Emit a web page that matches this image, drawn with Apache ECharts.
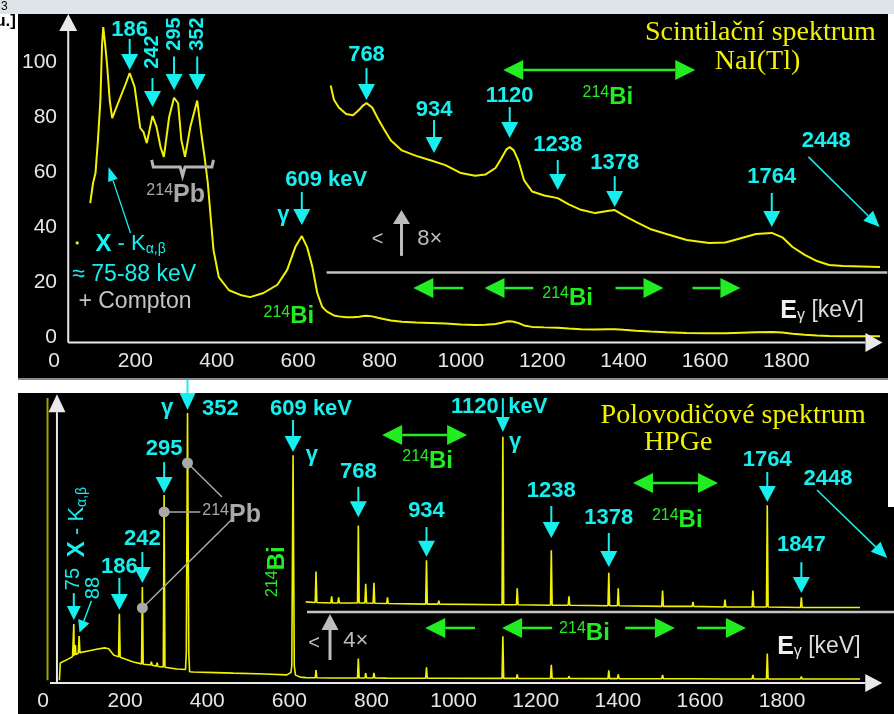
<!DOCTYPE html>
<html>
<head>
<meta charset="utf-8">
<script src="https://cdn.jsdelivr.net/npm/echarts@6/dist/echarts.min.js"></script>
<style>
  html, body { margin: 0; padding: 0; background: #fff; }
  #chart { width: 894px; height: 714px; }
</style>
</head>
<body>
<div id="chart"></div>
<script>
// Axis ticks: energy in keV, counts in 10^3
const energyTicks = [0, 200, 400, 600, 800, 1000, 1200, 1400, 1600, 1800];
const countTicks = [0, 20, 40, 60, 80, 100];

// NaI(Tl) scintillation spectrum of radon daughters: [energy keV, counts x10^3]
const naiSpectrum = [
  [89, 48.7], [96, 56], [102, 59.6], [108, 71.6], [114, 86], [118, 106], [121, 112.7],
  [126, 106], [131, 98], [137, 86], [143, 79.6], [147, 79], [160, 86], [176, 92],
  [186, 96], [198, 91], [205, 83.6], [212, 76], [220, 74.5], [228, 70.5], [242, 80.4],
  [252, 76.4], [262, 69], [270, 65.5], [283, 80], [295, 87], [305, 85], [313, 71.6],
  [322, 65.5], [335, 76.4], [352, 86], [362, 74], [370, 65.5], [378, 56], [385, 43.6],
  [392, 31.6], [405, 21.8], [430, 17], [458, 15.3], [482, 14.5], [515, 16], [549, 19],
  [573, 24.4], [593, 32.7], [609, 36.7], [622, 32.7], [635, 25.5], [647, 16], [659, 11],
  [670, 9.3], [680, 8.5], [688, 7.85], [700, 7.5], [718, 7.2], [735, 7.15], [750, 7.4],
  [760, 7.6], [768, 7.7], [782, 7.5], [796, 7.0], [810, 6.55], [828, 6.0], [855, 5.55],
  [890, 5.3], [925, 5.1], [962, 4.88], [1000, 4.52], [1035, 4.4], [1060, 4.45],
  [1085, 4.75], [1100, 5.2], [1112, 5.6], [1120, 5.7], [1130, 5.55], [1142, 5.05],
  [1155, 4.2], [1175, 3.68], [1205, 3.5], [1238, 3.38], [1265, 3.1], [1295, 2.85],
  [1330, 2.7], [1360, 2.8], [1378, 2.84], [1400, 2.6], [1430, 2.3], [1465, 1.98],
  [1505, 1.75], [1555, 1.48], [1610, 1.34], [1650, 1.36], [1690, 1.57], [1725, 1.75],
  [1764, 1.8], [1790, 1.6], [1815, 1.16], [1845, 0.8], [1875, 0.52], [1905, 0.34],
  [1940, 0.3], [2030, 0.25]
];

// HPGe semiconductor spectrum: [energy keV, relative counts]
const hpgeSpectrum = [
  [40, 0], [42, 6.1], [60, 7.4], [72, 8.4], [74, 8.6], [75, 20.0], [76, 8.7], [78, 9.0],
  [79, 12.5], [80, 9.1], [86, 9.6], [88, 15.7], [90, 9.8], [110, 10.4], [130, 11.0],
  [150, 11.5], [160, 11.2], [172, 9.0], [184, 8.3], [186, 23.6], [188, 8.2], [200, 7.5],
  [220, 6.5], [240, 5.8], [242, 33.2], [244, 5.7], [262, 5.4], [264, 6.6], [266, 5.3],
  [276, 5.0], [278, 6.2], [280, 4.9], [293, 4.7], [295, 65.9], [297, 4.6], [326, 4.0],
  [347, 3.8], [349, 9.6], [352, 95.1], [355, 9.8], [357, 3.0], [366, 2.9], [420, 2.7],
  [463, 2.5], [540, 2.2], [594, 1.9], [604, 2.8], [606, 5.4], [609, 80.1], [612, 5.0],
  [615, 1.8], [626, 1.1], [640, 0.9], [663, 0.85], [665, 3.6], [667, 0.85], [701, 0.8],
  [703, 1.4], [705, 0.8], [718, 0.8], [720, 1.3], [722, 0.8], [766, 0.8], [768, 7.7],
  [770, 0.8], [784, 0.8], [786, 2.5], [788, 0.8], [804, 0.78], [806, 2.6], [808, 0.78],
  [837, 0.75], [839, 1.3], [841, 0.75], [932, 0.7], [934, 4.6], [936, 0.7], [962, 0.7],
  [964, 1.0], [966, 0.7], [1118, 0.65], [1120, 15.6], [1122, 0.65], [1153, 0.65],
  [1155, 2.1], [1157, 0.65], [1236, 0.6], [1238, 5.5], [1240, 0.6], [1279, 0.6],
  [1281, 1.4], [1283, 0.6], [1376, 0.55], [1378, 3.5], [1380, 0.55], [1399, 0.55],
  [1401, 2.1], [1403, 0.55], [1507, 0.5], [1509, 1.9], [1511, 0.5], [1581, 0.5],
  [1583, 0.9], [1585, 0.5], [1659, 0.45], [1661, 1.1], [1663, 0.45], [1727, 0.45],
  [1729, 1.9], [1731, 0.45], [1762, 0.45], [1764, 9.5], [1766, 0.45], [1845, 0.4],
  [1847, 1.3], [1849, 0.4], [1990, 0.4]
];

// Magnified tails: NaI drawn 8x taller, HPGe 4x taller
const naiZoomFrom = 680;
const hpgeZoomFrom = 640;

const CYAN = '#17efef', GREEN = '#22ec22', YEL = '#f2f200', GREY = '#bcbcbc', WHITE = '#e9e9e9', PBGREY = '#a9a9a9';
const SANS = 'Liberation Sans', SERIF = 'Liberation Serif';

// ---- annotation helpers (coordinates are in data units of the owning grid) ----
const arrow = (from, to, color, width, hw, hl) => ({ kind: 'arrow', from, to, color, width, hw, hl });
const dbl = (from, to) => ({ kind: 'double', from, to, color: GREEN, width: 2.5, hw: 20, hl: 20 });
const line = (from, to, color, width) => ({ kind: 'line', from, to, color, width });
const dot = (at, r, color) => ({ kind: 'dot', at, r, color });
const txt = (at, text, o) => Object.assign({ kind: 'text', at, text, color: CYAN, size: 22, weight: 'bold', align: 'center', family: SANS }, o);
const V = Math.PI / 2;
const TITLE = { family: SERIF, size: 28, weight: 'normal', color: YEL };

function peak(e, top, tip, labelY, vertical) {
  return [
    arrow([e, top], [e, tip], CYAN, 2, 17, 16),
    txt([e, labelY], String(e), vertical ? { size: 20, rotate: V } : {})
  ];
}

const supRich = (color, big) => ({
  s: { fontSize: 16, fontFamily: SANS, fill: color, verticalAlign: 'top' },
  b: { fontSize: big, fontWeight: 'bold', fontFamily: SANS, fill: color }
});
const biRich = supRich(GREEN, 24);
const pbRich = supRich(PBGREY, 25);
const kRich = {
  x: { fontSize: 24, fontWeight: 'bold', fontFamily: SANS, fill: CYAN },
  n: { fontSize: 22, fontFamily: SANS, fill: CYAN },
  sub: { fontSize: 14, fontFamily: SANS, fill: CYAN, verticalAlign: 'bottom' }
};
const eRich = {
  e: { fontSize: 25, fontWeight: 'bold', fontFamily: SANS, fill: '#f0f0f0' },
  g: { fontSize: 16, fontFamily: SANS, fill: '#e0e0e0', verticalAlign: 'bottom' },
  n: { fontSize: 23, fontFamily: SANS, fill: '#dcdcdc' }
};
const BI = '{s|214}{b|Bi}', PB = '{s|214}{b|Pb}';

// NaI panel annotations (energy keV, counts x10^3)
const naiNotes = [
  arrow([35, -2], [35, 117.5], WHITE, 2, 18, 17),
  arrow([35, -2], [2036, -2], WHITE, 2, 19, 17),
  ...peak(186, 108.4, 97.1, 111.6),
  ...peak(242, 94.2, 83.6, 103.6, true),
  ...peak(295, 102, 89.8, 110.2, true),
  ...peak(352, 102, 89.8, 110.2, true),
  { kind: 'poly', points: [[240, 64.4], [244, 61.8], [310, 61.8], [316, 58.6], [322, 61.8], [388, 61.8], [392, 64.4]], color: '#b4b4b4', width: 3 },
  txt([227, 51.6], PB, { rich: pbRich, align: 'left' }),
  arrow([188, 37.8], [134, 61.8], CYAN, 1.3, 10, 14),
  dot([57, 34.2], 1.6, YEL),
  txt([102, 33.8], '{x|X}{n| - K}{sub|α,β}', { rich: kRich, align: 'left' }),
  txt([45, 22.5], '≈ 75-88 keV', { size: 23, weight: 'normal', align: 'left' }),
  txt([60, 12.7], '+ Compton', { size: 23, weight: 'normal', align: 'left', color: '#c4c4c4' }),
  txt([669, 57.1], '609 keV'),
  arrow([609, 52.7], [609, 40.7], CYAN, 2, 17, 16),
  txt([564, 44.4], 'γ'),
  txt([515, 7.6], BI, { rich: biRich, align: 'left' }),
  ...peak(768, 97.8, 86.2, 102.5),
  ...peak(934, 78.9, 66.9, 82.5),
  ...peak(1120, 83.6, 72.4, 87.6),
  ...peak(1238, 64.4, 53.5, 69.8),
  ...peak(1378, 58.5, 47.3, 63.3),
  ...peak(1764, 52.4, 40, 58.2),
  txt([1898, 71.3], '2448'),
  arrow([1854, 65.5], [2029, 40], CYAN, 1.5, 14, 16),
  dbl([1104, 97.1], [1576, 97.1]),
  txt([1299, 87.3], BI, { rich: biRich, align: 'left' }),
  txt([1736, 110.5], 'Scintilační spektrum', TITLE),
  txt([1729, 100], 'NaI(Tl)', TITLE),
  txt([795, 35.6], '<', { size: 20, weight: 'normal', color: GREY }),
  arrow([854, 29.5], [854, 46.2], '#bdbdbd', 3, 17, 14),
  txt([893, 35.6], '8×', { size: 22, weight: 'normal', color: GREY, align: 'left' }),
  arrow([1006, 17.8], [883, 17.8], GREEN, 2.5, 20, 20),
  arrow([1178, 17.8], [1058, 17.8], GREEN, 2.5, 20, 20),
  txt([1200, 14.2], BI, { rich: biRich, align: 'left' }),
  arrow([1380, 17.8], [1498, 17.8], GREEN, 2.5, 20, 20),
  arrow([1569, 17.8], [1687, 17.8], GREEN, 2.5, 20, 20),
  txt([1785, 9.5], '{e|E}{g|γ}{n| [keV]}', { rich: eRich, align: 'left' })
];
// zero line of the 8x magnified NaI tail
const naiZoomNotes = [line([670, 0], [2048, 0], '#c2c2c2', 2.5)];

// HPGe panel annotations (energy keV, relative counts)
const hpgeNotes = [
  arrow([34, -1], [34, 101.8], WHITE, 2, 17, 18),
  arrow([17, -1], [2044, -1], WHITE, 2, 18, 17),
  line([11, 0], [11, 100.4], '#a3a300', 2),
  arrow([352, 106.9], [352, 96.2], CYAN, 2, 16, 17),
  txt([302, 97], 'γ'),
  txt([387.5, 96.5], '352', { align: 'left' }),
  ...peak(295, 77.6, 66.6, 82.2),
  line([352, 77.3], [436, 65.2], PBGREY, 1.5),
  line([295, 59.9], [383, 59.9], PBGREY, 1.5),
  line([242, 25.7], [461, 57.4], PBGREY, 1.5),
  dot([352, 77.3], 5.5, PBGREY),
  dot([295, 59.9], 5.5, PBGREY),
  dot([242, 25.7], 5.5, PBGREY),
  txt([388, 58.8], PB, { rich: pbRich, align: 'left' }),
  ...peak(242, 45.6, 34.6, 50.2),
  ...peak(186, 36.4, 25, 40.3),
  arrow([75, 31], [75, 21.4], CYAN, 2, 14, 14),
  txt([75, 36], '75', { size: 20, weight: 'normal', rotate: V }),
  txt([122, 32.8], '88', { size: 20, weight: 'normal', rotate: V }),
  arrow([118, 28.3], [89, 17], CYAN, 1.5, 12, 12),
  txt([83, 43.8], '{x|X}{n| - K}{sub|α,β}', { rich: kRich, align: 'left', rotate: V }),
  txt([553, 96.5], '609 keV', { align: 'left' }),
  arrow([609, 92.6], [609, 81.2], CYAN, 2, 17, 16),
  txt([655, 80.1], 'γ'),
  txt([570, 29.6], BI, { rich: biRich, align: 'left', rotate: V }),
  ...peak(768, 68.8, 58, 74.1),
  ...peak(934, 54.5, 43.9, 60.1),
  txt([1110, 97.2], '1120', { align: 'right' }),
  txt([1133, 97.2], 'keV', { align: 'left' }),
  arrow([1120, 100.4], [1120, 88.3], CYAN, 2, 14, 15),
  txt([1150, 84.8], 'γ'),
  dbl([826, 87.3], [1033, 87.3]),
  txt([875, 78], BI, { rich: biRich, align: 'left' }),
  txt([1681, 94.3], 'Polovodičové spektrum', TITLE),
  txt([1547, 84.4], 'HPGe', TITLE),
  ...peak(1238, 62, 50.6, 67.3),
  ...peak(1378, 52.4, 40.3, 57.7),
  dbl([1437, 70.2], [1644, 70.2]),
  txt([1483, 57], BI, { rich: biRich, align: 'left' }),
  ...peak(1764, 74.1, 63.4, 78.4),
  txt([1912, 71.6], '2448'),
  arrow([1885, 67.7], [2056, 43.5], CYAN, 1.5, 14, 16),
  ...peak(1847, 42, 31, 48.1),
  txt([660, 13.2], '<', { size: 20, weight: 'normal', color: GREY }),
  arrow([699, 7.2], [699, 23.6], '#bdbdbd', 3, 17, 16),
  txt([731, 14], '4×', { size: 22, weight: 'normal', color: GREY, align: 'left' }),
  arrow([1052, 18.6], [931, 18.6], GREEN, 2.5, 20, 20),
  arrow([1240, 18.6], [1118, 18.6], GREEN, 2.5, 20, 20),
  txt([1257, 16.8], BI, { rich: biRich, align: 'left' }),
  arrow([1418, 18.6], [1539, 18.6], GREEN, 2.5, 20, 20),
  arrow([1593, 18.6], [1712, 18.6], GREEN, 2.5, 20, 20),
  txt([1788, 11.8], '{e|E}{g|γ}{n| [keV]}', { rich: eRich, align: 'left' })
];
const hpgeZoomNotes = [line([643, 0], [2073, 0], '#c2c2c2', 2.5)];

// ---- drawing of annotation items ----
function arrowParts(p1, p2, a) {
  const dx = p2[0] - p1[0], dy = p2[1] - p1[1];
  const len = Math.hypot(dx, dy) || 1;
  const ux = dx / len, uy = dy / len;
  const hw = a.hw / 2;
  const bx = p2[0] - ux * a.hl, by = p2[1] - uy * a.hl;
  return {
    shaft: { type: 'line', shape: { x1: p1[0], y1: p1[1], x2: bx, y2: by }, style: { stroke: a.color, lineWidth: a.width } },
    head: { type: 'polygon', shape: { points: [[p2[0], p2[1]], [bx - uy * hw, by + ux * hw], [bx + uy * hw, by - ux * hw]] }, style: { fill: a.color } },
    base: [bx, by]
  };
}

function renderer(list) {
  return function (params, api) {
    const a = list[params.dataIndex];
    const pt = p => api.coord(p);
    if (a.kind === 'arrow') {
      const r = arrowParts(pt(a.from), pt(a.to), a);
      return { type: 'group', children: [r.shaft, r.head] };
    }
    if (a.kind === 'double') {
      const p1 = pt(a.from), p2 = pt(a.to);
      const r1 = arrowParts(p1, p2, a), r2 = arrowParts(p2, p1, a);
      return { type: 'group', children: [
        { type: 'line', shape: { x1: r2.base[0], y1: r2.base[1], x2: r1.base[0], y2: r1.base[1] }, style: { stroke: a.color, lineWidth: a.width } },
        r1.head, r2.head
      ] };
    }
    if (a.kind === 'line') {
      const p1 = pt(a.from), p2 = pt(a.to);
      return { type: 'line', shape: { x1: p1[0], y1: p1[1], x2: p2[0], y2: p2[1] }, style: { stroke: a.color, lineWidth: a.width } };
    }
    if (a.kind === 'poly') {
      return { type: 'polyline', shape: { points: a.points.map(pt) }, style: { stroke: a.color, lineWidth: a.width, fill: 'none' } };
    }
    if (a.kind === 'dot') {
      const p = pt(a.at);
      return { type: 'circle', shape: { cx: p[0], cy: p[1], r: a.r }, style: { fill: a.color } };
    }
    const p = pt(a.at);
    return {
      type: 'text', x: p[0], y: p[1], rotation: a.rotate || 0,
      style: {
        text: a.text, fill: a.color, fontSize: a.size, fontWeight: a.weight, fontFamily: a.family,
        align: a.align, textAlign: a.align, verticalAlign: 'middle', textVerticalAlign: 'middle',
        rich: a.rich
      }
    };
  };
}

function notesSeries(list, axisIndex) {
  return {
    type: 'custom', xAxisIndex: axisIndex, yAxisIndex: axisIndex, clip: false, silent: true, z: 10,
    renderItem: renderer(list),
    encode: { x: 0, y: 1 },
    data: list.map(a => a.at || a.from || a.points[0])
  };
}

// ---- grids: 0 NaI, 1 NaI x8, 2 HPGe, 3 HPGe x4 ----
const grids = [
  { left: 54, right: 14, top: 12.5, bottom: 371.5 },
  { left: 54, right: 14, top: 8.5, bottom: 441.5 },
  { left: 43, right: 17.5, top: 393.6, bottom: 31 },
  { left: 43, right: 17.5, top: 392.8, bottom: 102 }
];
const labelStyle = { color: '#e6e6e6', fontSize: 21, fontFamily: SANS, formatter: v => String(v) };
function xAxis(i, labels) {
  return {
    gridIndex: i, type: 'value', min: 0, max: 2030,
    axisLine: { show: false }, axisTick: { show: false }, splitLine: { show: false },
    axisLabel: Object.assign({ show: labels, customValues: energyTicks, margin: 8 }, labelStyle)
  };
}
function yAxis(i, min, max, ticks) {
  return {
    gridIndex: i, type: 'value', min, max,
    axisLine: { show: false }, axisTick: { show: false }, splitLine: { show: false },
    axisLabel: ticks ? Object.assign({ show: true, customValues: ticks, margin: -3 }, labelStyle) : { show: false }
  };
}

const spectrumLine = (axisIndex, data, width) => ({
  type: 'line', xAxisIndex: axisIndex, yAxisIndex: axisIndex, data,
  showSymbol: false, clip: false, silent: true, z: 3,
  lineStyle: { color: YEL, width }
});

const option = {
  backgroundColor: '#ffffff',
  animation: false,
  graphic: [
    { type: 'rect', z: -10, silent: true, shape: { x: 0, y: 0, width: 894, height: 14 }, style: { fill: '#dde5e8' } },
    { type: 'rect', z: -10, silent: true, shape: { x: 18, y: 14, width: 870, height: 364 }, style: { fill: '#000' } },
    { type: 'rect', z: -10, silent: true, shape: { x: 18, y: 378, width: 870, height: 2 }, style: { fill: '#8a8a8a' } },
    { type: 'rect', z: -10, silent: true, shape: { x: 18, y: 393, width: 870, height: 321 }, style: { fill: '#000' } },
    { type: 'rect', z: -10, silent: true, shape: { x: 888, y: 507, width: 6, height: 207 }, style: { fill: '#000' } },
    { type: 'text', z: 5, silent: true, x: 1, y: 1, style: { text: '3', fill: '#000', font: '12px Liberation Sans' } },
    { type: 'text', z: 5, silent: true, x: 16, y: 13, style: { text: 'u.]', fill: '#000', font: 'bold 17px Liberation Sans', align: 'right' } }
  ],
  grid: grids,
  xAxis: [xAxis(0, true), xAxis(1, false), xAxis(2, true), xAxis(3, false)],
  yAxis: [yAxis(0, -2, 118, countTicks), yAxis(1, 0, 12), yAxis(2, -1, 102), yAxis(3, 0, 19.5)],
  series: [
    spectrumLine(0, naiSpectrum, 2),
    spectrumLine(1, naiSpectrum.filter(([e]) => e >= naiZoomFrom), 2),
    spectrumLine(2, hpgeSpectrum, 1.6),
    spectrumLine(3, hpgeSpectrum.filter(([e]) => e >= hpgeZoomFrom), 1.6),
    notesSeries(naiNotes, 0),
    notesSeries(naiZoomNotes, 1),
    notesSeries(hpgeNotes, 2),
    notesSeries(hpgeZoomNotes, 3)
  ]
};

const chart = echarts.init(document.getElementById('chart'), null, { renderer: 'canvas' });
chart.setOption(option);
</script>
</body>
</html>
